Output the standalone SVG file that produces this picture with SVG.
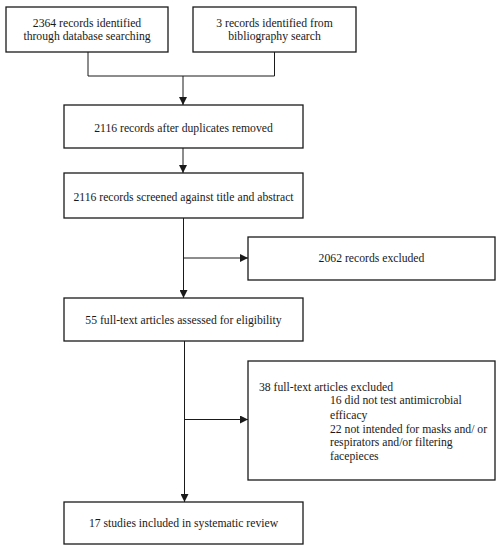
<svg xmlns="http://www.w3.org/2000/svg" width="502" height="550" viewBox="0 0 502 550">
<style>
.box{fill:#fff;stroke:#1a1a1a;stroke-width:1.3}
.t{font-family:"Liberation Serif","Times New Roman",serif;font-size:11.7px;fill:#1a1a1a}
.c{text-anchor:middle}
.ln{fill:none;stroke:#1a1a1a;stroke-width:1}
</style>
<defs>
<marker id="ah" viewBox="0 0 10 10" refX="10" refY="5" markerWidth="8" markerHeight="8" markerUnits="userSpaceOnUse" orient="auto">
<path d="M0,0 L10,5 L0,10 z" fill="#1a1a1a"/>
</marker>
</defs>
<rect width="502" height="550" fill="#fff"/>
<g id="connectors">
<path class="ln" d="M88,52 V76 H274.5 V52"/>
<path class="ln" d="M183,76 V105" marker-end="url(#ah)"/>
<path class="ln" d="M183,148 V173" marker-end="url(#ah)"/>
<path class="ln" d="M183.5,218 V298" marker-end="url(#ah)"/>
<path class="ln" d="M184,258 H248" marker-end="url(#ah)"/>
<path class="ln" d="M184.5,341 V502" marker-end="url(#ah)"/>
<path class="ln" d="M184.5,419.5 H248" marker-end="url(#ah)"/>
</g>
<g id="n1">
<rect class="box" x="6" y="7" width="162" height="45"/>
<text class="t c" x="87" y="27">2364 records identified</text>
<text class="t c" x="87" y="40">through database searching</text>
</g>
<g id="n2">
<rect class="box" x="193" y="7" width="163" height="45"/>
<text class="t c" x="274.5" y="27">3 records identified from</text>
<text class="t c" x="274.5" y="40">bibliography search</text>
</g>
<g id="n3">
<rect class="box" x="64" y="105" width="239" height="43"/>
<text class="t c" x="183.5" y="132">2116 records after duplicates removed</text>
</g>
<g id="n4">
<rect class="box" x="64" y="173" width="239" height="45"/>
<text class="t c" x="183.5" y="201">2116 records screened against title and abstract</text>
</g>
<g id="n5">
<rect class="box" x="248" y="237" width="247" height="43"/>
<text class="t c" x="371.5" y="262">2062 records excluded</text>
</g>
<g id="n6">
<rect class="box" x="64" y="298" width="239" height="43"/>
<text class="t c" x="183.5" y="324">55 full-text articles assessed for eligibility</text>
</g>
<g id="n7">
<rect class="box" x="248" y="361" width="247" height="119"/>
<text class="t" x="259" y="391">38 full-text articles excluded</text>
<text class="t" x="330" y="404">16 did not test antimicrobial</text>
<text class="t" x="330" y="418.5">efficacy</text>
<text class="t" x="330" y="433">22 not intended for masks and/ or</text>
<text class="t" x="330" y="445.5">respirators and/or filtering</text>
<text class="t" x="330" y="460">facepieces</text>
</g>
<g id="n8">
<rect class="box" x="64" y="502" width="239" height="42"/>
<text class="t c" x="183.5" y="527">17 studies included in systematic review</text>
</g>
</svg>
